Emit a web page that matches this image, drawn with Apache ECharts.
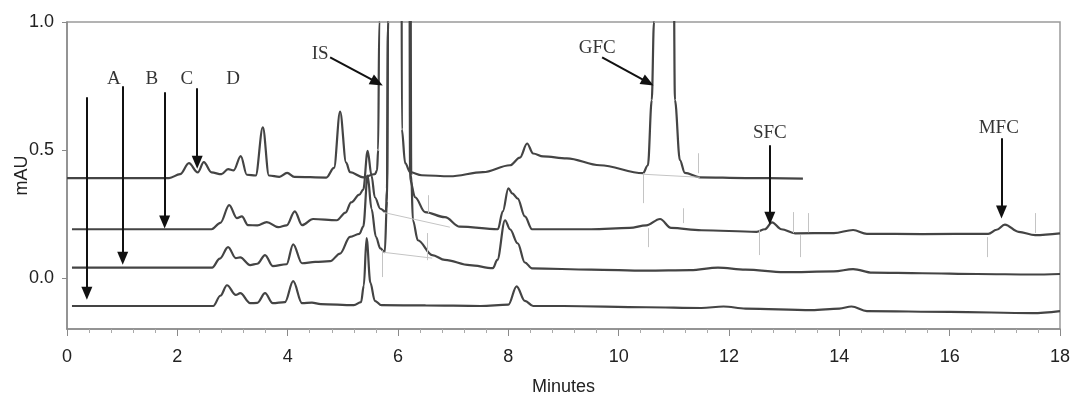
<!DOCTYPE html>
<html>
<head>
<meta charset="utf-8">
<script src="https://cdn.jsdelivr.net/npm/echarts@6/dist/echarts.min.js"></script>
<style>
  html, body { margin: 0; padding: 0; background: #fff; }
  #chart { width: 1071px; height: 395px; }
</style>
</head>
<body>
<div id="chart"></div>
<script>
// chromatogram traces, [minutes, mAU], top to bottom
var trace1 = [[0, 0.39], [1.85, 0.39], [2.05, 0.405], [2.21, 0.448], [2.37, 0.412], [2.48, 0.452], [2.62, 0.412], [2.8, 0.405], [2.92, 0.425], [3.02, 0.42], [3.15, 0.476], [3.26, 0.403], [3.42, 0.4], [3.55, 0.588], [3.66, 0.4], [3.85, 0.395], [3.99, 0.41], [4.12, 0.395], [4.7, 0.392], [4.84, 0.43], [4.95, 0.65], [5.06, 0.45], [5.13, 0.413], [5.37, 0.393], [5.58, 0.405], [5.62, 0.42], [5.64, 0.5], [5.66, 1.0], [5.67, 2.0], [6.06, 2.0], [6.07, 0.58], [6.13, 0.448], [6.22, 0.413], [6.43, 0.401], [6.94, 0.397], [7.54, 0.413], [8.03, 0.44], [8.21, 0.47], [8.34, 0.525], [8.45, 0.486], [8.63, 0.475], [9.06, 0.467], [9.66, 0.44], [10.44, 0.409], [10.53, 0.44], [10.6, 0.695], [10.64, 1.0], [10.66, 2.0], [10.98, 2.0], [11.02, 0.695], [11.11, 0.46], [11.2, 0.41], [11.47, 0.393], [12.3, 0.39], [13.34, 0.388]];
var trace2 = [[0.09, 0.19], [2.62, 0.19], [2.78, 0.215], [2.94, 0.284], [3.08, 0.233], [3.17, 0.24], [3.28, 0.206], [3.45, 0.205], [3.62, 0.218], [3.83, 0.198], [3.98, 0.205], [4.13, 0.26], [4.26, 0.206], [4.46, 0.23], [4.89, 0.225], [5.05, 0.255], [5.15, 0.295], [5.3, 0.325], [5.37, 0.345], [5.45, 0.496], [5.52, 0.4], [5.58, 0.315], [5.68, 0.27], [5.78, 0.257], [5.8, 0.35], [5.82, 1.0], [5.83, 2.0], [6.2, 2.0], [6.22, 0.382], [6.31, 0.315], [6.49, 0.257], [6.85, 0.237], [7.12, 0.2], [7.81, 0.19], [7.9, 0.26], [8.0, 0.35], [8.07, 0.33], [8.17, 0.31], [8.3, 0.24], [8.43, 0.19], [9.5, 0.19], [10.2, 0.195], [10.5, 0.205], [10.75, 0.23], [10.95, 0.195], [11.5, 0.186], [12.5, 0.18], [12.65, 0.19], [12.78, 0.217], [12.95, 0.19], [13.2, 0.174], [13.9, 0.175], [14.25, 0.187], [14.5, 0.172], [15.5, 0.171], [16.7, 0.172], [16.85, 0.188], [17.0, 0.208], [17.25, 0.18], [17.55, 0.167], [18, 0.174]];
var trace3 = [[0.09, 0.04], [2.63, 0.04], [2.77, 0.075], [2.92, 0.12], [3.06, 0.077], [3.14, 0.08], [3.32, 0.05], [3.45, 0.055], [3.59, 0.089], [3.73, 0.046], [3.98, 0.053], [4.1, 0.131], [4.26, 0.057], [4.5, 0.062], [4.77, 0.065], [4.95, 0.095], [5.13, 0.16], [5.3, 0.172], [5.37, 0.2], [5.45, 0.4], [5.52, 0.27], [5.6, 0.16], [5.68, 0.115], [5.76, 0.1], [5.8, 0.3], [5.82, 1.0], [5.83, 2.0], [6.22, 2.0], [6.24, 0.4], [6.27, 0.225], [6.36, 0.147], [6.62, 0.089], [6.85, 0.07], [7.3, 0.05], [7.72, 0.038], [7.8, 0.07], [7.94, 0.225], [8.03, 0.19], [8.17, 0.135], [8.3, 0.06], [8.43, 0.037], [9.5, 0.032], [10.5, 0.028], [11.3, 0.03], [11.8, 0.04], [12.3, 0.032], [13.0, 0.022], [13.9, 0.025], [14.25, 0.034], [14.6, 0.02], [15.5, 0.018], [16.5, 0.015], [17.5, 0.013], [18, 0.015]];
var trace4 = [[0.09, -0.11], [2.65, -0.11], [2.78, -0.07], [2.9, -0.029], [3.06, -0.067], [3.14, -0.06], [3.32, -0.099], [3.45, -0.098], [3.59, -0.06], [3.73, -0.099], [3.95, -0.095], [4.1, -0.013], [4.26, -0.099], [4.44, -0.097], [4.6, -0.103], [5.2, -0.107], [5.33, -0.095], [5.38, -0.03], [5.43, 0.155], [5.5, -0.02], [5.58, -0.09], [5.7, -0.107], [6.5, -0.108], [7.5, -0.11], [8.0, -0.105], [8.15, -0.033], [8.3, -0.09], [8.45, -0.11], [9.0, -0.11], [10.5, -0.115], [11.5, -0.118], [11.9, -0.112], [12.3, -0.12], [13.5, -0.126], [14.0, -0.12], [14.22, -0.112], [14.5, -0.13], [16, -0.133], [17.5, -0.138], [18, -0.13]];

var yTicks = [0, 0.5, 1.0];

// peak labels and arrows [x1, y1, x2, y2] (tail -> head)
var labelNames = ['A', 'B', 'C', 'D', 'IS', 'GFC', 'SFC', 'MFC'];
var labelPos = [[0.85, 0.776], [1.54, 0.776], [2.17, 0.776], [3.01, 0.776], [4.59, 0.874], [9.61, 0.897], [12.74, 0.565], [16.89, 0.585]];
var arrows = [[0.36, 0.706, 0.36, -0.06], [1.01, 0.749, 1.01, 0.077], [1.77, 0.725, 1.77, 0.218], [2.36, 0.741, 2.36, 0.452], [4.77, 0.862, 5.62, 0.764], [9.70, 0.862, 10.53, 0.764], [12.74, 0.518, 12.74, 0.233], [16.94, 0.546, 16.94, 0.257]];

// faint integration marks from the data system [x1, y1, x2, y2]
var intMarks = [[5.71, 0.108, 5.71, 0.003], [6.54, 0.323, 6.54, 0.253], [6.53, 0.175, 6.53, 0.069], [10.44, 0.409, 10.44, 0.292], [11.44, 0.487, 11.44, 0.409], [10.53, 0.194, 10.53, 0.12], [11.17, 0.272, 11.17, 0.214], [12.54, 0.186, 12.54, 0.089], [13.16, 0.257, 13.16, 0.175], [13.29, 0.167, 13.29, 0.081], [13.43, 0.253, 13.43, 0.178], [16.68, 0.159, 16.68, 0.081], [17.55, 0.253, 17.55, 0.175], [5.73, 0.256, 6.94, 0.198], [5.73, 0.1, 6.62, 0.077], [10.44, 0.405, 11.47, 0.393]];

function segs(list) {
  var out = [];
  for (var i = 0; i < list.length; i++) {
    out.push([{ coord: [list[i][0], list[i][1]] }, { coord: [list[i][2], list[i][3]] }]);
  }
  return out;
}

function traceSeries(data) {
  return {
    type: 'line',
    data: data,
    showSymbol: false,
    smooth: 0.35,
    smoothMonotone: 'x',
    clip: true,
    lineStyle: { color: '#444', width: 2.2 },
    silent: true
  };
}

var labelData = [];
for (var i = 0; i < labelNames.length; i++) {
  labelData.push({ name: labelNames[i], value: labelPos[i] });
}

var chart = echarts.init(document.getElementById('chart'));
chart.setOption({
  animation: false,
  grid: {
    left: 67, right: 11, top: 22, bottom: 66,
    containLabel: false,
    outerBoundsMode: 'none',
    show: true, borderColor: '#9a9a9a', borderWidth: 1.5
  },
  xAxis: {
    type: 'value',
    min: 0, max: 18, interval: 2,
    name: 'Minutes', nameLocation: 'middle', nameGap: 49,
    nameMoveOverlap: false,
    nameTextStyle: { fontFamily: 'Liberation Sans', fontSize: 18, color: '#222' },
    axisLine: { onZero: false, lineStyle: { color: '#8a8a8a', width: 1.5 } },
    axisTick: { inside: false, length: 7, lineStyle: { color: '#8a8a8a' } },
    minorTick: { show: true, splitNumber: 5, length: 4, lineStyle: { color: '#aaa' } },
    axisLabel: { margin: 19, fontFamily: 'Liberation Sans', fontSize: 18, color: '#222' },
    splitLine: { show: false }
  },
  yAxis: {
    type: 'value',
    min: -0.2, max: 1.0,
    name: 'mAU', nameLocation: 'middle', nameGap: 36,
    nameMoveOverlap: false,
    nameTextStyle: { fontFamily: 'Liberation Sans', fontSize: 18, color: '#222' },
    axisLine: { show: true, onZero: false, lineStyle: { color: '#8a8a8a', width: 1.5 } },
    axisTick: { show: true, length: 5, customValues: yTicks, lineStyle: { color: '#8a8a8a' } },
    axisLabel: {
      margin: 13, fontFamily: 'Liberation Sans', fontSize: 18, color: '#222',
      customValues: yTicks,
      formatter: function (v) { return v.toFixed(1); }
    },
    splitLine: { show: false }
  },
  series: [
    traceSeries(trace1),
    traceSeries(trace2),
    traceSeries(trace3),
    traceSeries(trace4),
    {
      type: 'line',
      data: [],
      silent: true,
      markLine: {
        silent: true,
        symbol: ['none', 'none'],
        label: { show: false },
        lineStyle: { color: '#c4c4c4', width: 1, type: 'solid' },
        data: segs(intMarks)
      }
    },
    {
      type: 'scatter',
      data: labelData,
      symbolSize: 1,
      itemStyle: { color: 'rgba(0,0,0,0)' },
      silent: true,
      label: {
        show: true,
        position: 'inside',
        formatter: '{b}',
        fontFamily: 'Liberation Serif',
        fontSize: 19,
        color: '#000'
      },
      markLine: {
        silent: true,
        symbol: ['none', 'triangle'],
        symbolSize: [11, 13],
        label: { show: false },
        lineStyle: { color: '#111', width: 2, type: 'solid' },
        itemStyle: { color: '#111' },
        data: segs(arrows)
      }
    }
  ]
});
</script>
</body>
</html>
